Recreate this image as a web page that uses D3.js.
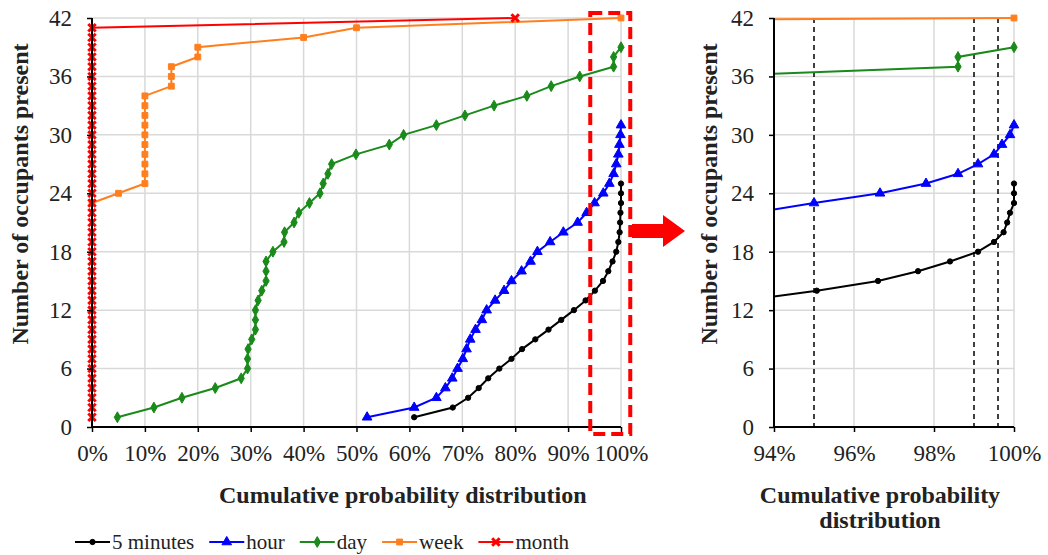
<!DOCTYPE html>
<html>
<head>
<meta charset="utf-8">
<script src="https://cdn.jsdelivr.net/npm/d3@7"></script>
<style>
    body { margin: 0; background: #fff; }
    svg text { font-family: "Liberation Serif", "Times New Roman", Times, serif !important; fill: #222; }
</style>
</head>
<body>
<div id="chart"></div>
<script>
// cumulative probability (x) against number of occupants present (y)
const min5_p = [0.609, 0.682, 0.711, 0.731, 0.749, 0.770, 0.793, 0.813, 0.838, 0.863, 0.887, 0.911, 0.933,
    0.9507, 0.966, 0.976, 0.984, 0.991, 0.995, 0.9974, 0.9983, 0.999, 1, 1, 1]
const min5_n = [1, 2, 3, 4, 5, 6, 7, 8, 9, 10, 11, 12, 13, 14, 15, 16, 17, 18, 19, 20, 21, 22, 23, 24, 25]

const hour_p = [0.520, 0.609, 0.651, 0.668, 0.681, 0.691, 0.701, 0.708, 0.715, 0.725, 0.737, 0.746, 0.762,
    0.779, 0.793, 0.812, 0.829, 0.842, 0.866, 0.891, 0.918, 0.935, 0.950, 0.9665, 0.978, 0.986, 0.991,
    0.995, 0.997, 0.999, 1]
const hour_n = [1, 2, 3, 4, 5, 6, 7, 8, 9, 10, 11, 12, 13, 14, 15, 16, 17, 18, 19, 20, 21, 22, 23, 24, 25,
    26, 27, 28, 29, 30, 31]

const day_p = [0.048, 0.117, 0.170, 0.233, 0.282, 0.294, 0.294, 0.295, 0.302, 0.309, 0.309, 0.309, 0.314,
    0.321, 0.329, 0.329, 0.329, 0.342, 0.363, 0.364, 0.382, 0.391, 0.411, 0.431, 0.437, 0.446, 0.453,
    0.499, 0.562, 0.589, 0.651, 0.705, 0.760, 0.822, 0.868, 0.922, 0.986, 0.986, 1]
const day_n = [1, 2, 3, 4, 5, 6, 7, 8, 9, 10, 11, 12, 13, 14, 15, 16, 17, 18, 19, 20, 21, 22, 23, 24, 25,
    26, 27, 28, 29, 30, 31, 32, 33, 34, 35, 36, 37, 38, 39]

const week_p = [0, 0.05, 0.10, 0.10, 0.10, 0.10, 0.10, 0.10, 0.10, 0.10, 0.10, 0.10, 0.15, 0.15, 0.15,
    0.20, 0.20, 0.40, 0.50, 1]
const week_n = [23, 24, 25, 26, 27, 28, 29, 30, 31, 32, 33, 34, 35, 36, 37, 38, 39, 40, 41, 42]

const month_p = [0, 0, 0, 0, 0, 0, 0, 0, 0, 0, 0, 0, 0, 0, 0, 0, 0, 0, 0, 0, 0, 0, 0, 0, 0, 0, 0, 0, 0,
    0, 0, 0, 0, 0, 0, 0, 0, 0, 0, 0, 0, 0.80]
const month_n = [1, 2, 3, 4, 5, 6, 7, 8, 9, 10, 11, 12, 13, 14, 15, 16, 17, 18, 19, 20, 21, 22, 23, 24, 25,
    26, 27, 28, 29, 30, 31, 32, 33, 34, 35, 36, 37, 38, 39, 40, 41, 42]

const series_names = ["5 minutes", "hour", "day", "week", "month"]
const y_ticks = [0, 6, 12, 18, 24, 30, 36, 42]
const left_x_ticks = [0, 0.1, 0.2, 0.3, 0.4, 0.5, 0.6, 0.7, 0.8, 0.9, 1]
const right_x_ticks = [0.94, 0.96, 0.98, 1]
const zoom_guides = [0.95, 0.99, 0.996]

const FONT = "'Liberation Serif', 'Times New Roman', Times, serif"

const zip = (ps, ns) => ps.map((p, i) => ({ p, n: ns[i] }))
const series = [
    { name: series_names[0], data: zip(min5_p, min5_n), color: "#000000", symbol: d3.symbolCircle, size: 22 },
    { name: series_names[1], data: zip(hour_p, hour_n), color: "#0000ff", symbol: d3.symbolTriangle, size: 40 },
    { name: series_names[2], data: zip(day_p, day_n), color: "#1a8a1a", symbol: d3.symbolDiamond, size: 34 },
    { name: series_names[3], data: zip(week_p, week_n), color: "#ff7f1e", symbol: d3.symbolSquare, size: 34 },
    { name: series_names[4], data: zip(month_p, month_n), color: "#ff0000", symbol: d3.symbolX, size: 38, stroke: true },
]

const svg = d3.select("#chart")
    .append("svg")
    .attr("width", 1048)
    .attr("height", 555)
    .attr("font-family", FONT)

const Panel = (config) => {
    const x = d3.scaleLinear().domain(config.xDomain).range([config.left, config.right])
    const y = d3.scaleLinear().domain([0, 42]).range([427, 18])
    const g = svg.append("g")

    function addGrid() {
        const grid = g.append("g").attr("stroke", "#d9d9d9").attr("stroke-width", 1.5)
        grid.selectAll(".v").data(config.xTicks.slice(1))
            .join("line")
            .attr("x1", d => x(d)).attr("x2", d => x(d))
            .attr("y1", y(0)).attr("y2", y(42))
        grid.selectAll(".h").data(y_ticks.slice(1))
            .join("line")
            .attr("x1", x.range()[0]).attr("x2", x.range()[1])
            .attr("y1", d => y(d)).attr("y2", d => y(d))
    }
    function addGuides(vals) {
        g.append("g").selectAll("line").data(vals)
            .join("line")
            .attr("x1", d => x(d)).attr("x2", d => x(d))
            .attr("y1", y(42)).attr("y2", y(0))
            .attr("stroke", "#000").attr("stroke-width", 1.5)
            .attr("stroke-dasharray", "5,4")
    }
    function addSeries() {
        let layer = g.append("g")
        if (config.clip) {
            svg.append("clipPath").attr("id", config.clip)
                .append("rect")
                .attr("x", x.range()[0]).attr("y", 8)
                .attr("width", x.range()[1] - x.range()[0] + 10).attr("height", 425)
            layer.attr("clip-path", `url(#${config.clip})`)
        }
        const line = d3.line().x(d => x(d.p)).y(d => y(d.n))
        series.forEach(s => {
            layer.append("path")
                .datum(s.data)
                .attr("fill", "none")
                .attr("stroke", s.color)
                .attr("stroke-width", 2)
                .attr("d", line)
            layer.append("g").selectAll("path").data(s.data)
                .join("path")
                .attr("transform", d => `translate(${x(d.p)},${y(d.n)})`)
                .attr("d", d3.symbol(s.symbol, s.size))
                .attr("fill", s.stroke ? "none" : s.color)
                .attr("stroke", s.color)
                .attr("stroke-width", s.stroke ? 3 : 1)
        })
    }
    function addAxis() {
        const xAxis = g.append("g")
            .attr("transform", `translate(0, ${y(0)})`)
            .call(d3.axisBottom(x)
                .tickValues(config.xTicks)
                .tickSize(5).tickPadding(13)
                .tickFormat(d => Math.round(d * 100) + "%"))
        const yAxis = g.append("g")
            .attr("transform", `translate(${x.range()[0]}, 0)`)
            .call(d3.axisLeft(y)
                .tickValues(y_ticks)
                .tickSize(5).tickPadding(15))
        ;[xAxis, yAxis].forEach(a => {
            a.attr("font-family", FONT).attr("font-size", 23)
            a.select(".domain").attr("stroke", "#000").attr("stroke-width", 2)
            a.selectAll(".tick line").attr("stroke", "#000").attr("stroke-width", 1.5)
            a.selectAll(".tick text")
                .attr("font-family", FONT)
                .attr("fill", "#222")
        })
        xAxis.select(".domain").attr("d", `M${x.range()[0]},0H${x.range()[1]}`)
        yAxis.select(".domain").attr("d", `M0,${y(0)}V${y(42)}`)
    }
    function addTitles(lines, yTitleX) {
        g.append("text")
            .attr("transform", `translate(${yTitleX}, 194) rotate(-90)`)
            .attr("text-anchor", "middle")
            .attr("font-family", FONT)
            .style("font-size", "24px").style("font-weight", "bold")
            .text("Number of occupants present")
        lines.forEach(l => {
            g.append("text")
                .attr("x", l.x).attr("y", l.y)
                .attr("text-anchor", l.anchor || "middle")
                .attr("font-family", FONT)
                .style("font-size", "24px").style("font-weight", "bold")
                .text(l.text)
        })
    }
    return { x, y, g, addGrid, addGuides, addSeries, addAxis, addTitles }
}

/* LEFT PANEL */
const left = Panel({ xDomain: [0, 1], left: 92, right: 621, xTicks: left_x_ticks })
left.addGrid()
left.addSeries()
left.addAxis()
left.addTitles([{ text: "Cumulative probability distribution", x: 219, y: 503, anchor: "start" }], 28)

/* RIGHT PANEL */
const right = Panel({ xDomain: [0.94, 1], left: 774, right: 1014, xTicks: right_x_ticks, clip: "zoomclip" })
right.addGrid()
right.addGuides(zoom_guides)
right.addSeries()
right.addAxis()
right.addTitles([
    { text: "Cumulative probability", x: 880, y: 503 },
    { text: "distribution", x: 880, y: 528 },
], 717)

/* ZOOM BOX + ARROW */
svg.append("rect")
    .attr("x", left.x(0.94) + 1).attr("y", 13)
    .attr("width", 40).attr("height", 421)
    .attr("fill", "none")
    .attr("stroke", "#ff0000").attr("stroke-width", 4)
    .attr("stroke-dasharray", "12,6")
svg.append("path")
    .attr("d", "M632,224H663V215L685,231L663,247V238H632Z")
    .attr("fill", "#ff0000")

/* LEGEND */
const legend = svg.append("g").attr("transform", "translate(75, 542)")
let lx = 0
series.forEach(s => {
    const item = legend.append("g").attr("transform", `translate(${lx}, 0)`)
    item.append("line")
        .attr("x1", 0).attr("x2", 35)
        .attr("stroke", s.color).attr("stroke-width", 2)
    item.append("path")
        .attr("transform", "translate(17.5, 0)")
        .attr("d", d3.symbol(s.symbol, s.size))
        .attr("fill", s.stroke ? "none" : s.color)
        .attr("stroke", s.color)
        .attr("stroke-width", s.stroke ? 3 : 1)
    const t = item.append("text")
        .attr("x", 37).attr("y", 7)
        .attr("font-family", FONT)
        .style("font-size", "21px")
        .text(s.name)
    lx += 37 + t.node().getComputedTextLength() + 15
})
</script>
</body>
</html>
